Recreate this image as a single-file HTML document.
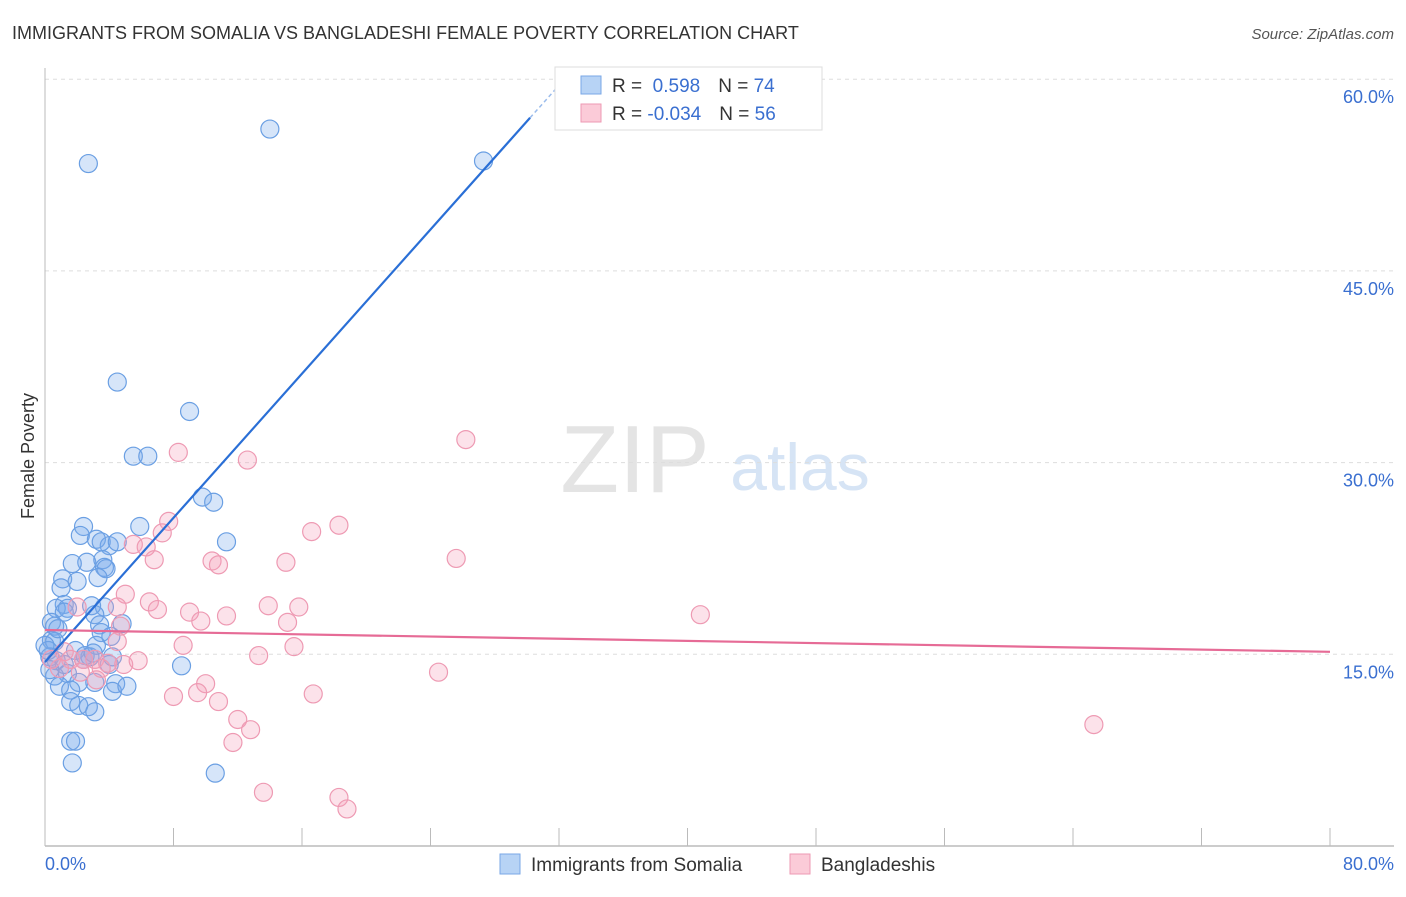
<!DOCTYPE html>
<html><head><meta charset="utf-8"><style>
body{margin:0;background:#fff;font-family:"Liberation Sans",sans-serif;}
svg text{font-family:"Liberation Sans",sans-serif;}
</style></head><body>
<svg id="c" width="1406" height="892" xmlns="http://www.w3.org/2000/svg">
<text x="12" y="39" font-size="18" fill="#333">IMMIGRANTS FROM SOMALIA VS BANGLADESHI FEMALE POVERTY CORRELATION CHART</text>
<text x="1394" y="39" font-size="15" fill="#555" font-style="italic" text-anchor="end">Source: ZipAtlas.com</text>
<text x="635" y="492" font-size="96" fill="#e4e4e4" text-anchor="middle" font-family="Liberation Serif">ZIP</text>
<text x="800" y="490" font-size="66" fill="#d6e4f5" text-anchor="middle">atlas</text>
<g id="grid"></g><g id="axes"></g><g id="pts"></g><g id="lines"></g>
<text x="34" y="456" font-size="18" fill="#333" text-anchor="middle" transform="rotate(-90 34 456)">Female Poverty</text>
<text x="45" y="870" font-size="18" fill="#3a6fd0">0.0%</text>
<text x="1394" y="870" font-size="18" fill="#3a6fd0" text-anchor="end">80.0%</text>
<g>
<rect x="555" y="67" width="267" height="63" fill="#fff" stroke="#ddd"/>
<rect x="581" y="76" width="20" height="18" fill="#b7d3f5" stroke="#7aa7e6"/>
<text x="612" y="92" font-size="19" fill="#333">R = <tspan fill="#3a6fd0">&#160;0.598</tspan><tspan dx="18">N = </tspan><tspan fill="#3a6fd0">74</tspan></text>
<rect x="581" y="104" width="20" height="18" fill="#fbcbd8" stroke="#ee9ab3"/>
<text x="612" y="120" font-size="19" fill="#333">R = <tspan fill="#3a6fd0">-0.034</tspan><tspan dx="18">N = </tspan><tspan fill="#3a6fd0">56</tspan></text>
</g>
<g>
<rect x="500" y="854" width="20" height="20" fill="#b7d3f5" stroke="#7aa7e6"/>
<text x="531" y="871" font-size="19" fill="#333">Immigrants from Somalia</text>
<rect x="790" y="854" width="20" height="20" fill="#fbcbd8" stroke="#ee9ab3"/>
<text x="821" y="871" font-size="19" fill="#333">Bangladeshis</text>
</g>
</svg>
<script>
const yTicks=[15,30,45,60];
const xTicks=[0,8,16,24,32,40,48,56,64,72,80];
const somaliaX=[2.7,14.0,27.3,4.5,9.0,5.5,6.4,9.8,10.5,2.4,5.9,2.2,3.2,4.0,3.5,4.5,11.3,2.6,1.7,3.6,3.7,3.8,1.1,2.0,3.3,1.0,1.2,3.7,2.9,0.7,1.4,1.2,3.1,4.8,0.4,0.6,3.4,3.5,4.1,0.4,0.6,3.2,1.9,2.8,2.4,0.7,0.3,0.2,4.0,8.5,0.6,1.4,2.1,3.1,4.4,4.2,5.1,0.9,1.6,1.6,2.1,2.7,3.1,1.6,1.9,1.7,10.6,4.2,1.2,0.0,0.3,0.8,2.5,3.0];
const somaliaY=[53.4,56.1,53.6,36.3,34.0,30.5,30.5,27.3,26.9,25.0,25.0,24.3,24.0,23.5,23.8,23.8,23.8,22.2,22.1,22.4,21.8,21.7,20.9,20.7,21.0,20.2,18.9,18.7,18.8,18.6,18.6,18.3,18.1,17.4,17.5,17.2,17.3,16.7,16.4,16.1,16.0,15.7,15.3,14.8,14.6,14.5,14.8,15.3,14.2,14.1,13.3,13.5,12.8,12.8,12.7,12.1,12.5,12.5,12.2,11.3,11.0,10.9,10.5,8.2,8.2,6.5,5.7,14.8,14.2,15.7,13.8,17.0,14.9,15.1];
const bangX=[26.2,8.3,12.6,18.3,16.6,7.7,7.3,5.5,6.3,6.8,10.4,10.8,15.0,25.6,40.8,5.0,6.5,7.0,9.0,9.7,11.3,13.9,15.8,15.1,4.5,2.0,8.6,15.5,13.3,4.7,4.5,1.2,1.6,2.4,3.1,3.9,4.9,5.8,3.5,0.9,0.4,24.5,10.0,9.5,8.0,16.7,10.8,12.0,12.8,11.7,65.3,13.6,18.3,18.8,3.2,2.2];
const bangY=[31.8,30.8,30.2,25.1,24.6,25.4,24.5,23.6,23.4,22.4,22.3,22.0,22.2,22.5,18.1,19.7,19.1,18.5,18.3,17.6,18.0,18.8,18.7,17.5,18.7,18.7,15.7,15.6,14.9,17.2,16.0,15.2,14.6,14.6,14.6,14.3,14.2,14.5,13.9,13.9,14.6,13.6,12.7,12.0,11.7,11.9,11.3,9.9,9.1,8.1,9.5,4.2,3.8,2.9,13.0,13.6];
const somaliaFit=[14.4,1.41];
const bangFit=[16.9,-0.0213];
const X=v=>45+v*16.0625, Y=v=>846-v*12.78;
const NS='http://www.w3.org/2000/svg';
function mk(t,a,p){const e=document.createElementNS(NS,t);for(const k in a)e.setAttribute(k,a[k]);document.getElementById(p).appendChild(e);return e;}
yTicks.forEach(t=>{
 const l=mk('line',{x1:45,x2:1394,y1:Y(t),y2:Y(t),stroke:'#ddd','stroke-dasharray':'4,4'},'grid');
 
 
 const tx=mk('text',{x:1394,y:Y(t)+24,'font-size':18,fill:'#3a6fd0','text-anchor':'end'},'grid');
 tx.textContent=t.toFixed(1)+'%';
 
 
});
const ya=mk('line',{x1:45,x2:45,y1:68,y2:846,stroke:'#bbb'},'axes');


const xa=mk('line',{x1:45,x2:1394,y1:846,y2:846,stroke:'#bbb','stroke-width':1.5},'axes');


xTicks.forEach(t=>{
 const l=mk('line',{x1:X(t),x2:X(t),y1:828,y2:846,stroke:'#bbb'},'axes');
 
 
});
somaliaX.forEach((v,i)=>{
 const c=mk('circle',{cx:X(v),cy:Y(somaliaY[i]),r:9,fill:'rgba(120,170,235,0.3)',stroke:'#6a9fe3','stroke-width':1.2},'pts');
 
 
});
bangX.forEach((v,i)=>{
 const c=mk('circle',{cx:X(v),cy:Y(bangY[i]),r:9,fill:'rgba(245,160,185,0.3)',stroke:'#ee9ab3','stroke-width':1.2},'pts');
 
 
});
const xe=30.2;
const s1=mk('line',{x1:X(0),y1:Y(somaliaFit[0]),x2:X(xe),y2:Y(somaliaFit[0]+somaliaFit[1]*xe),stroke:'#2a6fd6','stroke-width':2.2},'lines');


const xe2=31.9;
const s2=mk('line',{x1:X(xe),y1:Y(somaliaFit[0]+somaliaFit[1]*xe),x2:X(xe2),y2:Y(somaliaFit[0]+somaliaFit[1]*xe2),stroke:'#9bbcec','stroke-width':1.5,'stroke-dasharray':'4,3'},'lines');


const b1=mk('line',{x1:X(0),y1:Y(bangFit[0]),x2:X(80),y2:Y(bangFit[0]+bangFit[1]*80),stroke:'#e66b96','stroke-width':2.2},'lines');


</script>
</body></html>
